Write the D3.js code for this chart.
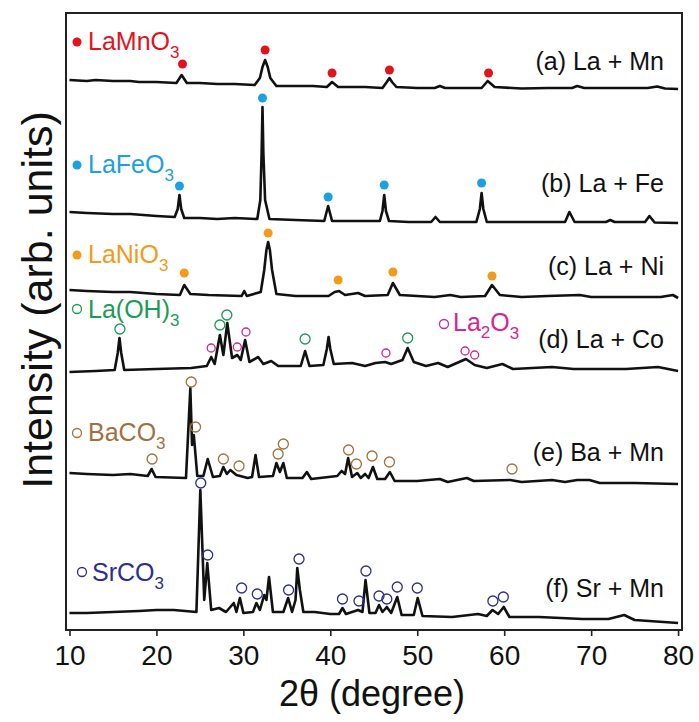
<!DOCTYPE html>
<html>
<head>
<meta charset="utf-8">
<script src="https://cdn.jsdelivr.net/npm/d3@7"></script>
<style>
  body { margin: 0; background: #fff; }
  svg { display: block; font-family: "Liberation Sans", Arial, sans-serif; }
</style>
</head>
<body>
<div id="chart"></div>
<script>
// ---- data (2theta in degrees, intensity in arb. units above each trace's baseline) ----
const xTicks = [10, 20, 30, 40, 50, 60, 70, 80];
const sampleLabels = ["(a) La + Mn", "(b) La + Fe", "(c) La + Ni", "(d) La + Co", "(e) Ba + Mn", "(f) Sr + Mn"];
const offsets = [541, 407, 332, 259, 146, 7];

const traceA = [[10,9],[12,8],[13,9],[15,8],[17,8],[18,7],[20,7],[22.3,6],[22.9,14],[23.5,6],[25,6],[27,5],[29,5],[31.3,4],[31.9,11],[32.2,22],[32.5,29],[32.8,22],[33.1,11],[33.8,3],
  [36,3],[38,3],[39.6,2],[40.2,7],[40.9,2],[44,2],[46.0,1],[46.5,7],[46.8,11],[47.1,7],[47.6,2],[50,1],[52.0,1],[52.6,3],[53.2,1],[57.4,1],[58.1,8],[58.9,2],
  [62,0.5],[65,1],[67.8,1],[68.4,3],[69.2,1],[72,1],[76.5,1],[77.6,2.5],[78.5,0.5],[80,0]];
const traceB = [[10,11],[12,10],[15,9],[17,9],[20,7],[22.1,6],[22.45,14],[22.65,28],[22.85,14],[23.2,5],[25,5],[27,4],[29,5],[31.6,4],[31.95,23],[32.1,70],[32.2,116],[32.3,70],[32.5,23],[33.0,4],
  [36,3],[39.3,2],[39.75,17],[40.2,2],[43,2],[45.7,2],[46.0,12],[46.2,28],[46.4,12],[46.75,2],[49,1],[51.6,1],[52.1,6],[52.6,1],[56.8,1],[57.2,14],[57.4,30],[57.6,14],[58.0,1],
  [63,1],[67.0,1],[67.5,11],[68.1,1],[71.7,1],[72.2,3],[72.7,1],[76.2,1],[76.7,7],[77.3,0.5],[80,0]];
const traceC = [[10,8],[12,7],[15,6],[17,6],[20,4],[22.7,3],[23.2,13],[23.9,4],[26,3],[29.8,2],[30.1,7],[30.4,2],[32.0,6],[32.4,28],[32.65,48],[32.85,56],
  [33.05,48],[33.3,28],[33.8,4],[36,2],[39.8,2],[40.5,6],[41.0,7],[41.7,3],[43.2,5],[44,2],[46.6,3],[47.2,15],[48.0,3],[52,1],[53.8,3],
  [55,1],[57.8,2],[58.6,13],[59.5,3],[62,1],[65,2],[68.7,3],[70,1],[74,1],[78,1],[79.4,3],[80,0]];
const traceD = [[10,-1],[13,0],[15.2,1],[15.55,18],[15.75,33],[15.95,18],[16.3,1],[20,2],[24,3],[25.8,5],[26.3,14],[26.7,7],[27.3,36],[27.7,16],
  [28.15,48],[28.7,13],[29.3,16],[29.7,11],[30.2,31],[30.7,9],[31.7,14],[32.3,7],[33.2,10],[34,5],[36.6,5],[37.1,20],[37.6,5],
  [39.2,6],[39.6,22],[39.8,34],[40.0,22],[40.4,7],[42.5,8],[44,5],[45.2,8],[46.3,9],[47,7],[48.3,11],[48.9,23],[49.6,9],[51,5],[52.4,8],[53.5,4],
  [55.6,12],[56.6,6],[58,3],[59.8,7],[61,2],[65.5,4],[68,2],[74,2],[77.7,4],[80,0]];
const traceE = [[10,11],[12,10],[15,9],[17,10],[19.0,8],[19.45,15],[19.9,7],[23.4,6],[23.9,96],[24.1,39],[24.3,49],[24.7,8],[25.4,8],[25.9,25],
  [26.5,7],[27.3,8],[27.7,17],[28.1,10],[28.5,14],[29.2,9],[30.5,6],[31.0,7],[31.4,29],[31.8,7],[33.4,8],[33.8,21],[34.2,12],
  [34.6,21],[35.0,6],[36.8,6],[37.3,12],[37.8,5],[40.8,8],[41.3,13],[41.7,10],[42.05,26],[42.5,7],[43.1,11],[43.5,6],[44.0,10],
  [44.4,6],[44.9,17],[45.4,5],[46.3,5],[46.85,12],[47.4,3],[50,3],[52.6,5],[53.5,2],[55.7,6],[56.5,3],[60.7,4],[62,2],[65.5,4],
  [67,2],[68.4,4],[69.8,4],[71,1],[75,1],[80,0]];
const traceF = [[10,10],[12,10],[15,11],[18,12],[20,13],[22,13],[24.6,11],[25.05,133],[25.5,23],[25.85,60],[26.3,13],[27.2,15],[28.0,11],
  [28.9,20],[29.2,11],[29.6,25],[30.0,10],[31.1,11],[31.5,20],[31.9,13],[32.4,28],[32.65,23],[32.95,46],[33.4,11],[34.6,11],
  [35.15,25],[35.6,11],[36.0,23],[36.2,55],[36.5,33],[36.9,11],[38.2,11],[40,9],[41.0,9],[41.4,15],[41.8,9],[43.2,13],[43.7,11],
  [44.05,43],[44.5,10],[45.2,10],[45.6,18],[46.0,11],[46.5,16],[47.0,10],[47.7,26],[48.2,8],[49.6,8],[50.05,25],[50.6,7],[54,6],
  [57,9],[58.0,7],[58.65,13],[59.3,9],[59.95,16],[60.6,6],[64,6],[69,4],[72,4],[73.8,8],[75,3],[80,0]];
const traces = [traceA, traceB, traceC, traceD, traceE, traceF];

// phase markers: [2theta, height above baseline]
const markLaMnO3 = [[23.0,25],[32.5,39],[40.2,16],[46.8,19],[58.2,16]];
const markLaFeO3 = [[22.65,37],[32.2,125],[39.75,26],[46.2,38],[57.4,40]];
const markLaNiO3 = [[23.2,25],[32.85,65],[40.9,18],[47.2,26],[58.6,22]];
const markLaOH3 = [[15.8,42],[27.3,46],[28.1,56],[37.1,32],[48.9,33]];
const markLa2O3 = [[26.3,23],[29.3,24],[30.3,39],[46.4,18],[55.5,20],[56.6,16]];
const markBaCO3 = [[19.5,25],[24.0,102],[24.5,57],[27.7,25],[29.5,18],[34.0,30],[34.6,40],[42.1,34],[43.0,20],[44.8,28],[46.8,22],[60.9,15]];
const markSrCO3 = [[25.1,140],[25.9,68],[29.8,35],[31.6,29],[35.2,33],[36.4,64],[41.4,24],[43.3,22],[44.1,52],[45.6,27],[46.5,24],[47.7,36],[50.0,35],[58.7,22],[59.9,26]];

const phases = [
  { name: "LaMnO", sub: "3", pre: "", marks: markLaMnO3, trace: 0, color: "#e3131d", filled: true, r: 4.5 },
  { name: "LaFeO", sub: "3", pre: "", marks: markLaFeO3, trace: 1, color: "#1ba1e2", filled: true, r: 4.5 },
  { name: "LaNiO", sub: "3", pre: "", marks: markLaNiO3, trace: 2, color: "#f39a1b", filled: true, r: 4.5 },
  { name: "La(OH)", sub: "3", pre: "", marks: markLaOH3, trace: 3, color: "#1e9a57", filled: false, r: 5 },
  { name: "O", sub: "3", pre: "La", mid: "2", marks: markLa2O3, trace: 3, color: "#d6258f", filled: false, r: 4 },
  { name: "BaCO", sub: "3", pre: "", marks: markBaCO3, trace: 4, color: "#a2703e", filled: false, r: 5 },
  { name: "SrCO", sub: "3", pre: "", marks: markSrCO3, trace: 5, color: "#2e2e90", filled: false, r: 5 }
];

// ---- layout ----
const width = 699, height = 722;
const plotLeft = 66, plotRight = 682, plotTop = 13, plotBottom = 630;

const svg = d3.select("#chart").append("svg")
  .attr("width", width).attr("height", height);

const x = d3.scaleLinear().domain([9.6, 80.45]).range([plotLeft, plotRight]);
const y = d3.scaleLinear().domain([0, 617]).range([plotBottom, plotTop]);

const line = d3.line()
  .x(d => x(d[0]))
  .y(d => y(d[1]));

// traces
svg.append("g")
  .selectAll("path")
  .data(traces)
  .join("path")
  .attr("fill", "none")
  .attr("stroke", "#111")
  .attr("stroke-width", 2.6)
  .attr("stroke-linejoin", "round")
  .attr("d", (d, i) => line(d.map(p => [p[0], p[1] + offsets[i]])));

// phase markers
phases.forEach(ph => {
  svg.append("g")
    .selectAll("circle")
    .data(ph.marks)
    .join("circle")
    .attr("cx", d => x(d[0]))
    .attr("cy", d => y(d[1] + offsets[ph.trace]))
    .attr("r", ph.r)
    .attr("fill", ph.filled ? ph.color : "none")
    .attr("stroke", ph.filled ? "none" : ph.color)
    .attr("stroke-width", 1.3);
});

// phase legend labels (symbol + formula)
const legendPos = [
  { cx: 77, cy: 42, tx: 88, ty: 50 },
  { cx: 77, cy: 165, tx: 88, ty: 173 },
  { cx: 77, cy: 255, tx: 88, ty: 263 },
  { cx: 77, cy: 309, tx: 88, ty: 318 },
  { cx: 444, cy: 324, tx: 453, ty: 331 },
  { cx: 77, cy: 433, tx: 88, ty: 441 },
  { cx: 82, cy: 572, tx: 92, ty: 581 }
];

phases.forEach((ph, i) => {
  const p = legendPos[i];
  svg.append("circle")
    .attr("cx", p.cx).attr("cy", p.cy)
    .attr("r", 4.5)
    .attr("fill", ph.filled ? ph.color : "none")
    .attr("stroke", ph.filled ? "none" : ph.color)
    .attr("stroke-width", 1.3);
  const t = svg.append("text")
    .attr("x", p.tx).attr("y", p.ty)
    .attr("fill", ph.color)
    .style("font-size", "25px");
  if (ph.pre) {
    t.append("tspan").text(ph.pre);
    t.append("tspan").attr("dy", 7).style("font-size", "17px").text(ph.mid);
    t.append("tspan").attr("dy", -7).text(ph.name);
  } else {
    t.append("tspan").text(ph.name);
  }
  t.append("tspan").attr("dy", 8).style("font-size", "17px").text(ph.sub);
});

// sample labels
const labelY = [70, 192, 275, 348, 461, 597];
svg.append("g")
  .selectAll("text")
  .data(sampleLabels)
  .join("text")
  .attr("x", 664)
  .attr("y", (d, i) => labelY[i])
  .attr("text-anchor", "end")
  .attr("fill", "#111")
  .style("font-size", "25px")
  .text(d => d);

// x axis
const xAxis = svg.append("g")
  .attr("transform", `translate(0,${plotBottom})`)
  .call(d3.axisBottom(x).tickValues(xTicks).tickSize(6).tickPadding(9).tickFormat(d3.format("d")));
xAxis.select(".domain").remove();
xAxis.selectAll("line").attr("stroke", "#222").attr("stroke-width", 1.6);
xAxis.selectAll("text")
  .attr("fill", "#111")
  .style("font-family", "'Liberation Sans', Arial, sans-serif")
  .style("font-size", "28px");

// frame
svg.append("rect")
  .attr("x", plotLeft).attr("y", plotTop)
  .attr("width", plotRight - plotLeft).attr("height", plotBottom - plotTop)
  .attr("fill", "none")
  .attr("stroke", "#222")
  .attr("stroke-width", 2);

// axis titles
svg.append("text")
  .attr("x", 372).attr("y", 706)
  .attr("text-anchor", "middle")
  .attr("fill", "#111")
  .style("font-size", "36px")
  .text("2θ (degree)");

svg.append("text")
  .attr("transform", "translate(52,300) rotate(-90)")
  .attr("text-anchor", "middle")
  .attr("fill", "#111")
  .style("font-size", "43px")
  .text("Intensity (arb. units)");
</script>
</body>
</html>
